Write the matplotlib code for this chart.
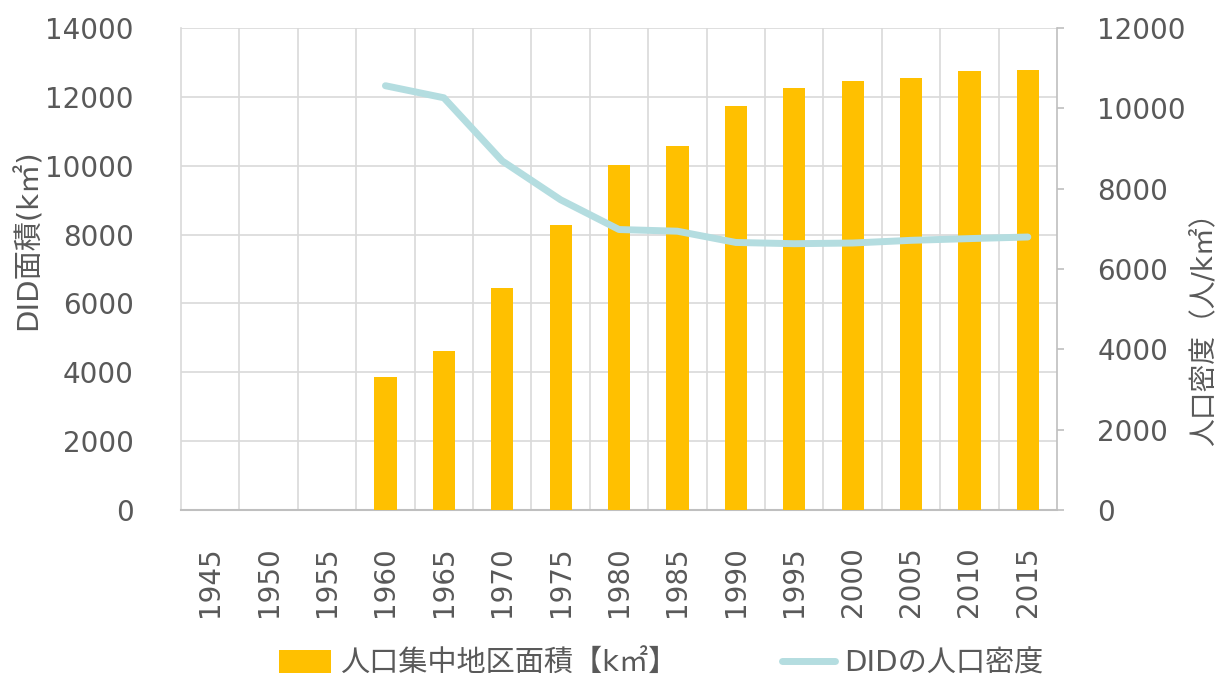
import numpy as np
import matplotlib.pyplot as plt
from matplotlib.ticker import MultipleLocator

plt.rcParams['font.family'] = ['DejaVu Sans', 'Noto Sans CJK JP']

# データ
years = ['1945', '1950', '1955', '1960', '1965', '1970', '1975',
         '1980', '1985', '1990', '1995', '2000', '2005', '2010', '2015']
area = [np.nan, np.nan, np.nan, 3865, 4605, 6444, 8275,
        10015, 10571, 11732, 12255, 12457, 12561, 12744, 12786]
density = [np.nan, np.nan, np.nan, 10563, 10263, 8690, 7723,
           6983, 6941, 6661, 6630, 6647, 6714, 6757, 6797]

txt = '#595959'
grid_c = '#d9d9d9'

fig = plt.figure(figsize=(12.24, 6.8), dpi=100)
ax = fig.add_axes([0.1479, 0.25, 0.7157, 0.7088])
x = np.arange(len(years))

bars = ax.bar(x, area, width=0.38, color='#FFC000', zorder=3)
ax.set_xlim(-0.5, len(years) - 0.5)
ax.set_ylim(0, 14000)
ax.yaxis.set_major_locator(MultipleLocator(2000))
ax.set_xticks(x)
ax.set_xticklabels(years, rotation=90)
ax.set_xticks(x[:-1] + 0.5, minor=True)
ax.grid(axis='y', color=grid_c, lw=1.2, zorder=0)
ax.grid(axis='x', which='minor', color=grid_c, lw=1.2, zorder=0)
ax.tick_params(axis='x', which='both', length=0, labelsize=20, colors=txt, pad=26)
ax.tick_params(axis='y', length=0, labelsize=20, colors=txt, pad=34)
for s in ['top', 'right']:
    ax.spines[s].set_visible(False)
ax.spines['left'].set_color(grid_c)
ax.spines['left'].set_linewidth(1.2)
ax.spines['bottom'].set_color('#bfbfbf')
ax.spines['bottom'].set_linewidth(1.5)

ax2 = ax.twinx()
line, = ax2.plot(x, density, color='#b4dde0', lw=5, solid_capstyle='round', zorder=4)
ax2.set_ylim(0, 12000)
ax2.yaxis.set_major_locator(MultipleLocator(2000))
ax2.tick_params(axis='y', direction='out', length=5, width=1.2,
                labelsize=20, labelcolor=txt, color='#bfbfbf', pad=24)
for s in ['top', 'left', 'bottom']:
    ax2.spines[s].set_visible(False)
ax2.spines['right'].set_color('#bfbfbf')
ax2.spines['right'].set_linewidth(1.2)

# 軸ラベル
fig.text(0.0229, 0.647, 'DID面積(k㎡)', rotation=90, fontsize=21, color=txt,
         ha='center', va='center')
fig.text(0.983, 0.526, '人口密度（人/k㎡）', rotation=90, fontsize=20, color=txt,
         ha='center', va='center')

fig.legend([bars, line], ['人口集中地区面積【k㎡】', 'DIDの人口密度'],
           loc='center', bbox_to_anchor=(0.54, 0.024), ncol=2, borderpad=0,
           frameon=False, fontsize=21, labelcolor=txt, columnspacing=3.6,
           handlelength=1.8, handleheight=0.8, handletextpad=0.3)

fig.savefig('out.png', dpi=100)
